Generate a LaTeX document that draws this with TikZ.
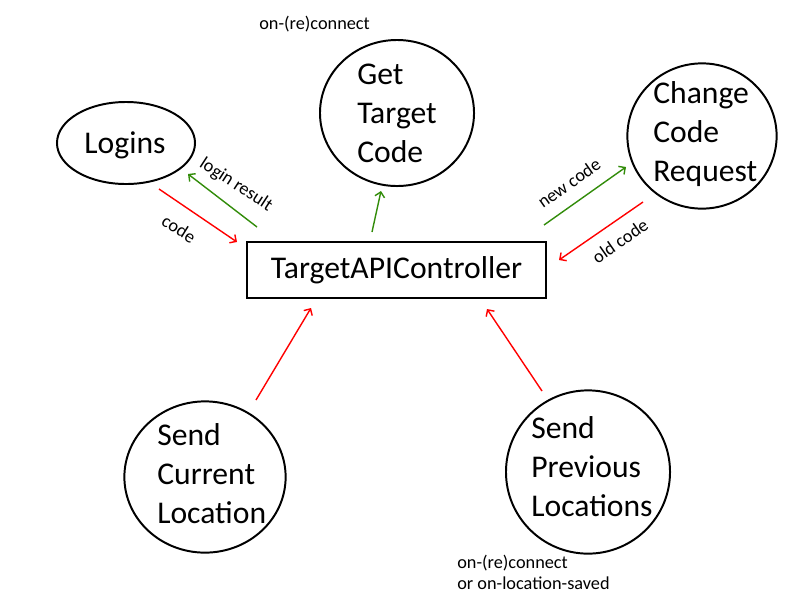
\documentclass[tikz,border=0pt]{standalone}
\usepackage{fontspec}
\setmainfont{Carlito}
\usetikzlibrary{shapes.geometric,arrows.meta}
\definecolor{okgreen}{RGB}{50,140,10}

\begin{document}
\begin{tikzpicture}[x=0.025cm,y=-0.025cm]
	\tikzstyle{bubble}  = [ellipse, draw=black, line width=1.4pt, inner sep=0pt]
	\tikzstyle{bigtext} = [font=\fontsize{22.5}{27.7}\selectfont, align=left, inner sep=0pt]
	\tikzstyle{note}    = [font=\fontsize{13}{15}\selectfont, align=left, inner sep=0pt]
	\tikzstyle{flow}    = [line width=1pt, -{Straight Barb[length=3.5pt,width=7pt]}]

	\useasboundingbox (0,0) rectangle (800,600);

	% the controller in the middle
	\node[draw, line width=1.6pt, minimum width=7.48cm, minimum height=1.4cm, inner sep=0pt,
		font=\fontsize{22.5}{27.7}\selectfont] (controller) at (396.5,270) {TargetAPIController};

	% the five services round it
	\foreach \name/\x/\y/\w/\h in {logins/126/143/3.45/2.05, gettarget/397/113/3.85/3.65,
			changecode/702/136/3.73/3.63, sendcurrent/205/477/4.03/3.78, sendprevious/588/472/4.1/4.08}
		\node[bubble, minimum width=\w cm, minimum height=\h cm] (\name) at (\x,\y) {};

	\node[bigtext, anchor=base] (loginstext) at (125,153) {Logins};
	\node[bigtext, anchor=west] (gettargettext) at (357,113) {Get\\Target\\Code};
	\node[bigtext, anchor=west] (changecodetext) at (653,134) {Change\\Code\\Request};
	\node[bigtext, anchor=west] (sendcurrenttext) at (157,474) {Send\\Current\\Location};
	\node[bigtext, anchor=west] (sendprevioustext) at (531,467) {Send\\Previous\\Locations};

	% free ends of the arrows
	\foreach \name/\x/\y in {codeA/159/189, codeB/237/242, loginA/257/227, loginB/188/174,
			fetchA/372/232, fetchB/381/191, newA/544/225, newB/626/167, oldA/643/202, oldB/559/260,
			curA/256/400, curB/311/308, prevA/542/391, prevB/487/309}
		\coordinate (\name) at (\x,\y);

	\foreach \from/\to in {codeA/codeB, oldA/oldB, curA/curB, prevA/prevB}
		\draw[flow, red] (\from) -- (\to);

	\foreach \from/\to in {loginA/loginB, fetchA/fetchB, newA/newB}
		\draw[flow, okgreen] (\from) -- (\to);

	% labels
	\node[note, rotate=-32] (codelabel) at (179,229) {code};
	\node[note, rotate=-33] (loginlabel) at (236,185) {login result};
	\node[note, rotate=35] (newlabel) at (569,183) {new code};
	\node[note, rotate=35] (oldlabel) at (620,241) {old code};
	\node[note, anchor=west] (fetchnote) at (259,24) {on-(re)connect};
	\node[note, anchor=north west] (sendnote) at (457,555) {on-(re)connect\\or on-location-saved};
\end{tikzpicture}
\end{document}
